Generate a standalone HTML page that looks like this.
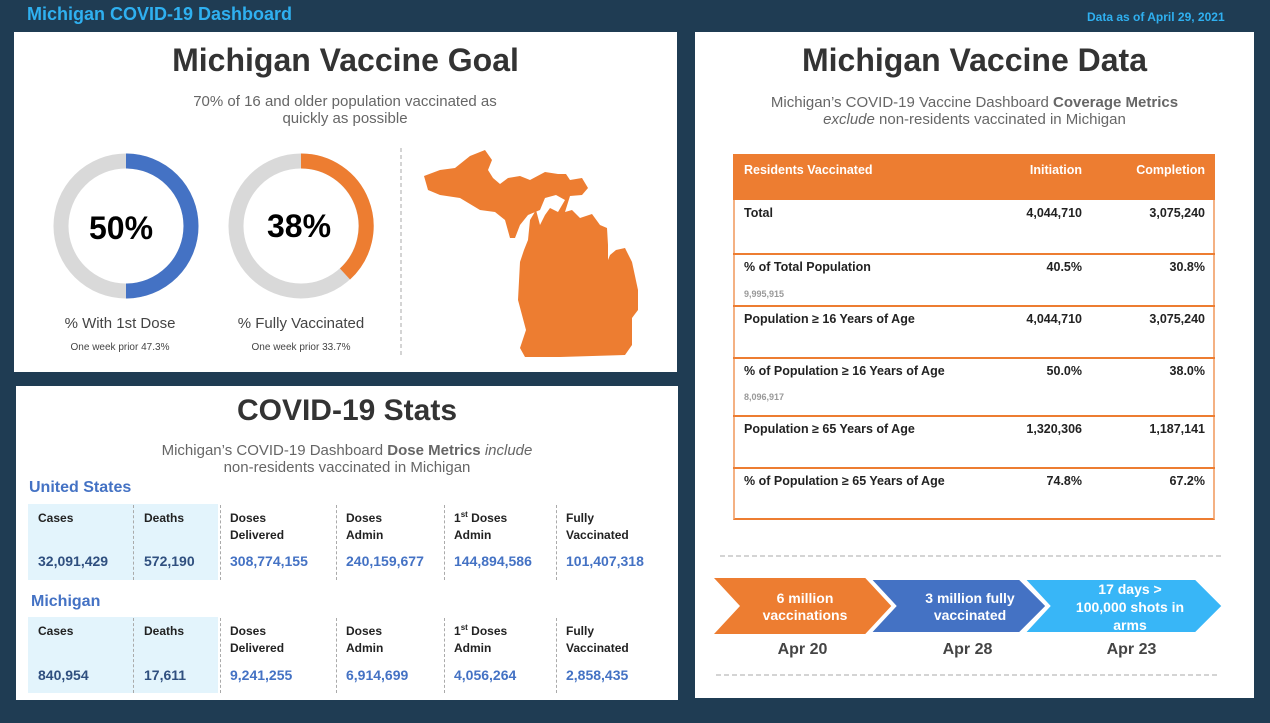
<!DOCTYPE html>
<html><head><meta charset="utf-8"><style>
*{margin:0;padding:0;box-sizing:border-box}
body{width:1270px;height:723px;background:#1f3c53;font-family:"Liberation Sans",sans-serif;position:relative;overflow:hidden}
.abs{position:absolute}
.panel{position:absolute;background:#fff}
.t{position:absolute;white-space:nowrap}
.c{text-align:center}
.b{font-weight:bold}
.hdr{font-size:12px;font-weight:bold;color:#222;line-height:17px}
.hdr sup{font-size:8px;line-height:0;vertical-align:5px}
.num{font-size:14px;font-weight:bold;color:#4472c4}
.dash{position:absolute;border-left:1px dashed #aaa}
.tr{position:absolute;left:733px;width:482px;border-top:1px solid #ed7d31;font-size:12.5px;font-weight:bold;color:#222}
</style></head><body>
<div class="t b" style="left:27px;top:4px;font-size:18px;color:#2fb0f0">Michigan COVID-19 Dashboard</div>
<div class="t b" style="left:1087px;top:10px;font-size:12px;color:#2fb0f0">Data as of April 29, 2021</div>

<div class="panel" style="left:14px;top:32px;width:663px;height:340px"></div>
<div class="t c b" style="left:14px;width:663px;top:42px;font-size:32px;color:#333">Michigan Vaccine Goal</div>
<div class="t c" style="left:140px;width:410px;top:93px;font-size:15px;color:#666;line-height:17px">70% of 16 and older population vaccinated as<br>quickly as possible</div>
<svg class="abs" style="left:0;top:0" width="680" height="380">
<circle cx="126" cy="226" r="65" fill="none" stroke="#d9d9d9" stroke-width="15"/>
<path d="M126 161 A65 65 0 0 1 126 291" fill="none" stroke="#4472c4" stroke-width="15"/>
<circle cx="301" cy="226" r="65" fill="none" stroke="#d9d9d9" stroke-width="15"/>
<path d="M301 161 A65 65 0 0 1 345 274" fill="none" stroke="#ed7d31" stroke-width="15"/>
<line x1="401" y1="148" x2="401" y2="358" stroke="#aaa" stroke-dasharray="4,3"/>
<path fill="#ed7d31" d="M424 176 L440 170 L455 168 L470 156 L485 150 L492 160 L488 170 L493 178 L500 184 L508 178 L520 176 L530 180 L545 172 L558 174 L566 174 L570 180 L582 178 L588 188 L582 195 L570 196 L565 212 L572 210 L580 218 L592 214 L600 225 L607 228 L608 245 L608 260 L610 255 L616 250 L625 248 L632 262 L638 290 L638 310 L632 318 L632 345 L625 355 L560 357 L525 357 L520 348 L526 330 L518 300 L520 262 L524 250 L528 240 L530 220 L536 210 L540 225 L545 215 L550 208 L558 212 L565 200 L556 195 L545 198 L540 210 L528 215 L520 225 L515 238 L510 238 L505 220 L495 212 L480 210 L460 198 L440 195 L428 190 Z"/>
</svg>
<div class="t c b" style="left:51px;width:140px;top:210px;font-size:32px;color:#000">50%</div>
<div class="t c b" style="left:229px;width:140px;top:208px;font-size:32px;color:#000">38%</div>
<div class="t c" style="left:34px;width:172px;top:315px;font-size:15px;color:#444">% With 1st Dose</div>
<div class="t c" style="left:34px;width:172px;top:342px;font-size:10px;color:#444">One week prior 47.3%</div>
<div class="t c" style="left:215px;width:172px;top:315px;font-size:15px;color:#444">% Fully Vaccinated</div>
<div class="t c" style="left:215px;width:172px;top:342px;font-size:10px;color:#444">One week prior 33.7%</div>

<div class="panel" style="left:16px;top:386px;width:662px;height:314px"></div>
<div class="t c b" style="left:16px;width:662px;top:394px;font-size:30px;color:#333">COVID-19 Stats</div>
<div class="t c" style="left:16px;width:662px;top:442px;font-size:15px;color:#666;line-height:17px">Michigan’s COVID-19 Dashboard <b>Dose Metrics</b> <i>include</i><br>non-residents vaccinated in Michigan</div>
<div class="t b" style="left:29px;top:479px;font-size:16px;color:#4472c4">United States</div>
<div class="t b" style="left:31px;top:593px;font-size:16px;color:#4472c4">Michigan</div>
<div class="abs" style="left:28px;top:504px;width:190px;height:76px;background:#e3f4fc"></div>
<div class="abs" style="left:28px;top:617px;width:190px;height:76px;background:#e3f4fc"></div>
<div class="dash" style="left:133px;top:505px;height:75px"></div><div class="dash" style="left:220px;top:505px;height:75px"></div><div class="dash" style="left:336px;top:505px;height:75px"></div><div class="dash" style="left:444px;top:505px;height:75px"></div><div class="dash" style="left:556px;top:505px;height:75px"></div>
<div class="dash" style="left:133px;top:618px;height:75px"></div><div class="dash" style="left:220px;top:618px;height:75px"></div><div class="dash" style="left:336px;top:618px;height:75px"></div><div class="dash" style="left:444px;top:618px;height:75px"></div><div class="dash" style="left:556px;top:618px;height:75px"></div>

<div class="t hdr" style="left:38px;top:510px">Cases</div><div class="t hdr" style="left:144px;top:510px">Deaths</div><div class="t hdr" style="left:230px;top:510px">Doses<br>Delivered</div><div class="t hdr" style="left:346px;top:510px">Doses<br>Admin</div><div class="t hdr" style="left:454px;top:510px">1<sup>st</sup> Doses<br>Admin</div><div class="t hdr" style="left:566px;top:510px">Fully<br>Vaccinated</div>
<div class="t num" style="left:38px;top:553px;color:#2f4f7f">32,091,429</div><div class="t num" style="left:144px;top:553px;color:#2f4f7f">572,190</div><div class="t num" style="left:230px;top:553px">308,774,155</div><div class="t num" style="left:346px;top:553px">240,159,677</div><div class="t num" style="left:454px;top:553px">144,894,586</div><div class="t num" style="left:566px;top:553px">101,407,318</div>

<div class="t hdr" style="left:38px;top:623px">Cases</div><div class="t hdr" style="left:144px;top:623px">Deaths</div><div class="t hdr" style="left:230px;top:623px">Doses<br>Delivered</div><div class="t hdr" style="left:346px;top:623px">Doses<br>Admin</div><div class="t hdr" style="left:454px;top:623px">1<sup>st</sup> Doses<br>Admin</div><div class="t hdr" style="left:566px;top:623px">Fully<br>Vaccinated</div>
<div class="t num" style="left:38px;top:667px;color:#2f4f7f">840,954</div><div class="t num" style="left:144px;top:667px;color:#2f4f7f">17,611</div><div class="t num" style="left:230px;top:667px">9,241,255</div><div class="t num" style="left:346px;top:667px">6,914,699</div><div class="t num" style="left:454px;top:667px">4,056,264</div><div class="t num" style="left:566px;top:667px">2,858,435</div>

<div class="panel" style="left:695px;top:32px;width:559px;height:666px"></div>
<div class="t c b" style="left:695px;width:559px;top:42px;font-size:32px;color:#333">Michigan Vaccine Data</div>
<div class="t c" style="left:695px;width:559px;top:94px;font-size:15px;color:#666;line-height:17px">Michigan’s COVID-19 Vaccine Dashboard <b>Coverage Metrics</b><br><i>exclude</i> non-residents vaccinated in Michigan</div>

<div class="abs" style="left:733px;top:154px;width:482px;height:366px;border:2px solid #f4b183;border-bottom:2px solid #ed7d31"></div>
<div class="abs" style="left:733px;top:154px;width:482px;height:46px;background:#ed7d31;color:#fff;font-size:12.5px;font-weight:bold">
<span class="abs" style="left:11px;top:9px">Residents Vaccinated</span><span class="abs" style="right:133px;top:9px">Initiation</span><span class="abs" style="right:10px;top:9px">Completion</span></div>
<div class="tr" style="top:200px;height:53px;border-top:none"><span class="abs" style="left:11px;top:6px">Total</span><span class="abs" style="right:133px;top:6px">4,044,710</span><span class="abs" style="right:10px;top:6px">3,075,240</span></div>
<div class="tr" style="top:253px;height:52px;border-top-width:2px"><span class="abs" style="left:11px;top:5px">% of Total Population</span><span class="abs" style="right:133px;top:5px">40.5%</span><span class="abs" style="right:10px;top:5px">30.8%</span><span class="abs" style="left:11px;top:34px;font-size:9px;color:#999">9,995,915</span></div>
<div class="tr" style="top:305px;height:52px;border-top-width:2px"><span class="abs" style="left:11px;top:5px">Population ≥ 16 Years of Age</span><span class="abs" style="right:133px;top:5px">4,044,710</span><span class="abs" style="right:10px;top:5px">3,075,240</span></div>
<div class="tr" style="top:357px;height:58px;border-top-width:2px"><span class="abs" style="left:11px;top:5px">% of Population ≥ 16 Years of Age</span><span class="abs" style="right:133px;top:5px">50.0%</span><span class="abs" style="right:10px;top:5px">38.0%</span><span class="abs" style="left:11px;top:33px;font-size:9px;color:#999">8,096,917</span></div>
<div class="tr" style="top:415px;height:52px;border-top-width:2px"><span class="abs" style="left:11px;top:5px">Population ≥ 65 Years of Age</span><span class="abs" style="right:133px;top:5px">1,320,306</span><span class="abs" style="right:10px;top:5px">1,187,141</span></div>
<div class="tr" style="top:467px;height:53px;border-top-width:2px"><span class="abs" style="left:11px;top:5px">% of Population ≥ 65 Years of Age</span><span class="abs" style="right:133px;top:5px">74.8%</span><span class="abs" style="right:10px;top:5px">67.2%</span></div>

<svg class="abs" style="left:0;top:0" width="1270" height="723">
<line x1="720" y1="556" x2="1222" y2="556" stroke="#aaa" stroke-dasharray="5,3"/>
<line x1="716" y1="675" x2="1218" y2="675" stroke="#aaa" stroke-dasharray="5,3"/>
<polygon points="714,578 866,578 894,606 866,634 714,634 740,606" fill="#ed7d31"/>
<polygon points="868,578 1020,578 1048,606 1020,634 868,634 894,606" fill="#4472c4" stroke="#fff" stroke-width="4"/>
<polygon points="1022,578 1196,578 1224,606 1196,634 1022,634 1048,606" fill="#38b6f7" stroke="#fff" stroke-width="4"/>
</svg>
<div class="t c b" style="left:740px;width:130px;top:590px;font-size:14px;color:#fff;line-height:17px">6 million<br>vaccinations</div>
<div class="t c b" style="left:900px;width:140px;top:590px;font-size:14px;color:#fff;line-height:17px">3 million fully<br>vaccinated</div>
<div class="t c b" style="left:1050px;width:160px;top:580px;font-size:14px;color:#fff;line-height:18px">17 days &gt;<br>100,000 shots in<br>arms</div>
<div class="t c b" style="left:755px;width:95px;top:641px;font-size:16px;color:#444">Apr 20</div>
<div class="t c b" style="left:920px;width:95px;top:641px;font-size:16px;color:#444">Apr 28</div>
<div class="t c b" style="left:1084px;width:95px;top:641px;font-size:16px;color:#444">Apr 23</div>
</body></html>
